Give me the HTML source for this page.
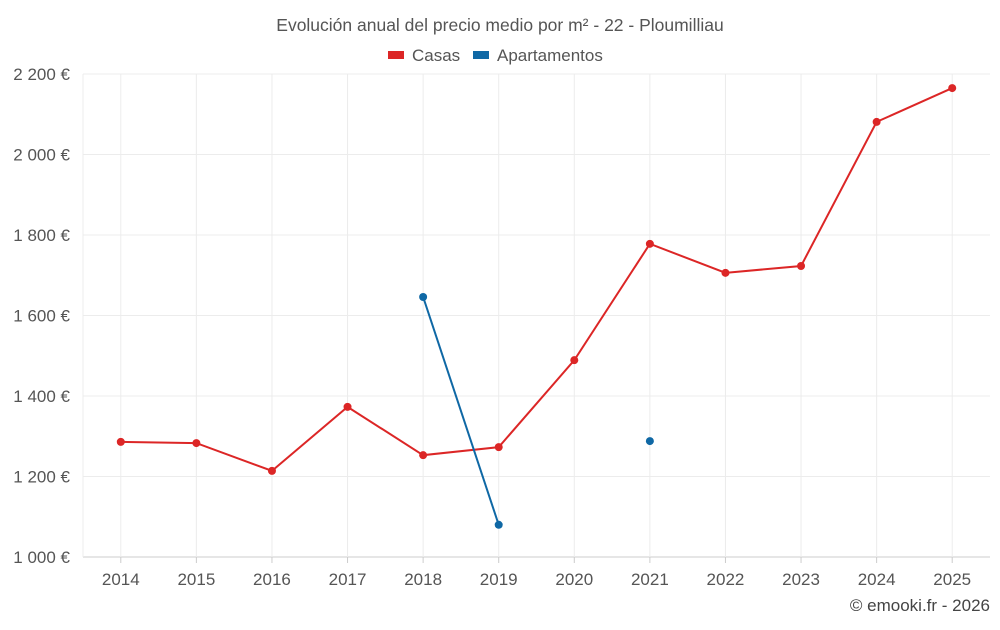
<!DOCTYPE html>
<html><head><meta charset="utf-8"><style>
body{margin:0;background:#fff;font-family:"Liberation Sans",sans-serif;}
svg text{font-family:"Liberation Sans",sans-serif;}
</style></head><body>
<svg id="c" width="1000" height="625" xmlns="http://www.w3.org/2000/svg"></svg>
<script>
const years=[2014,2015,2016,2017,2018,2019,2020,2021,2022,2023,2024,2025];
const casas=[1286,1283,1214,1373,1253,1273,1489,1778,1706,1723,2081,2165];
const apartamentos=[null,null,null,null,1646,1080,null,1288,null,null,null,null];
const yTicks=[1000,1200,1400,1600,1800,2000,2200];
const yTickLabels=["1 000 €","1 200 €","1 400 €","1 600 €","1 800 €","2 000 €","2 200 €"];

const svg=document.getElementById('c');const NS='http://www.w3.org/2000/svg';
const L=83,R=990,T=74,B=557,ymin=1000,ymax=2200;
const bw=(R-L)/years.length;
const xs=i=>L+bw*(i+0.5);
const ys=v=>B-(v-ymin)/(ymax-ymin)*(B-T);
function mk(tag,attrs,parent){const e=document.createElementNS(NS,tag);for(const k in attrs)e.setAttribute(k,attrs[k]);(parent||svg).appendChild(e);return e;}
function txt(s,attrs){const e=mk('text',attrs);e.textContent=s;return e;}

const t=txt('Evolución anual del precio medio por m² - 22 - Ploumilliau',{x:500,y:31,'text-anchor':'middle','font-size':17.5,fill:'#555'});



const lg=mk('g',{});


const l1=mk('g',{},lg);


mk('rect',{x:388,y:51,width:16,height:8,fill:'#dc2626'},l1);
const lt1=mk('text',{x:412,y:61,'font-size':17,fill:'#555'},l1);lt1.textContent='Casas';
const l2=mk('g',{},lg);


mk('rect',{x:473,y:51,width:16,height:8,fill:'#0f68a5'},l2);
const lt2=mk('text',{x:497,y:61,'font-size':17,fill:'#555'},l2);lt2.textContent='Apartamentos';

yTicks.forEach((v,i)=>{
  const g=mk('line',{x1:L,x2:R,y1:ys(v),y2:ys(v),stroke:i==0?'#ccc':'#ececec'});
  
  
  const lb=txt(yTickLabels[i],{x:70,y:ys(v)+6,'text-anchor':'end','font-size':17,fill:'#555'});
  
  
});
years.forEach((y,i)=>{
  const g=mk('line',{x1:xs(i),x2:xs(i),y1:T,y2:B,stroke:'#ececec'});
  
  
  const tk=mk('line',{x1:xs(i),x2:xs(i),y1:B,y2:B+6,stroke:'#ccc'});
  
  
  const lb=txt(String(y),{x:xs(i),y:585,'text-anchor':'middle','font-size':17,fill:'#555'});
  
  
});
mk('line',{x1:L,x2:L,y1:T,y2:B,stroke:'#ececec'});

function series(data,color,name){
  let segs=[],cur=[];
  data.forEach((v,i)=>{if(v==null){if(cur.length)segs.push(cur);cur=[];}else cur.push([xs(i),ys(v)]);});
  if(cur.length)segs.push(cur);
  segs.forEach(s=>{if(s.length>1){const p=mk('polyline',{points:s.map(q=>q.join(',')).join(' '),fill:'none',stroke:color,'stroke-width':2});
    
    }});
  data.forEach((v,i)=>{if(v==null)return;const c=mk('circle',{cx:xs(i),cy:ys(v),r:4,fill:color});
    
    });
}
series(casas,'#dc2626','casas');
series(apartamentos,'#0f68a5','apartamentos');

const cr=txt('© emooki.fr - 2026',{x:990,y:611,'text-anchor':'end','font-size':17,fill:'#444'});


</script>
</body></html>
